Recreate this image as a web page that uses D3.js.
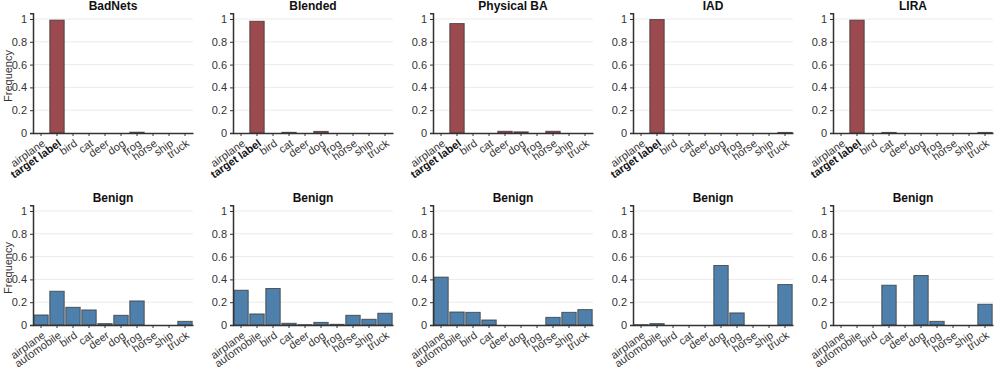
<!DOCTYPE html>
<meta charset="UTF-8">
<style>
body { margin: 0; background: #fff; }
text { font-family: "Liberation Sans", Arial, sans-serif; fill: #333; }
.title { font-weight: bold; font-size: 12px; fill: #111; }
.grid line { stroke: #ebebeb; stroke-width: 1px; }
.axis path, .axis line { stroke: #333; }
</style>
<body>
<script src="https://d3js.org/d3.v7.min.js"></script>
<script>

// class names
var attackClasses = ["airplane", "target label", "bird", "cat", "deer", "dog", "frog", "horse", "ship", "truck"];
var benignClasses = ["airplane", "automobile", "bird", "cat", "deer", "dog", "frog", "horse", "ship", "truck"];

var attackNames = ["BadNets", "Blended", "Physical BA", "IAD", "LIRA"];

// prediction frequencies of poisoned samples
var badnetsAttack  = [0, 0.99, 0, 0, 0, 0, 0.007, 0, 0, 0];
var blendedAttack  = [0, 0.98, 0, 0.006, 0, 0.014, 0, 0, 0, 0];
var physicalAttack = [0, 0.96, 0, 0, 0.015, 0.01, 0, 0.015, 0, 0];
var iadAttack      = [0, 0.995, 0, 0, 0, 0, 0, 0, 0, 0.005];
var liraAttack     = [0, 0.99, 0, 0.005, 0, 0, 0, 0, 0, 0.005];

// prediction frequencies of benign models
var badnetsBenign  = [0.088, 0.296, 0.155, 0.132, 0.012, 0.085, 0.211, 0, 0, 0.032];
var blendedBenign  = [0.305, 0.097, 0.32, 0.015, 0.003, 0.023, 0.006, 0.085, 0.05, 0.103];
var physicalBenign = [0.42, 0.114, 0.111, 0.044, 0, 0, 0, 0.067, 0.111, 0.135];
var iadBenign      = [0.003, 0.012, 0, 0, 0, 0.522, 0.106, 0, 0, 0.355];
var liraBenign     = [0, 0, 0, 0.349, 0, 0.434, 0.032, 0, 0, 0.182];

var yTicks = [0, 0.2, 0.4, 0.6, 0.8, 1];

var attackValues = [badnetsAttack, blendedAttack, physicalAttack, iadAttack, liraAttack];
var benignValues = [badnetsBenign, blendedBenign, physicalBenign, iadBenign, liraBenign];

var width = 996, height = 371;
var plotW = 160, plotH = 114;
var panelStep = 200, left0 = 33;

var svg = d3.select("body").append("svg")
    .attr("width", width)
    .attr("height", height);

function drawPanel(col, row, title, classes, values, color, boldIndex) {
  var x0 = left0 + col * panelStep;
  var y0 = row === 0 ? 19 : 211;

  var g = svg.append("g").attr("transform", "translate(" + x0 + "," + y0 + ")");

  var x = d3.scaleBand().domain(classes).range([0, plotW]).paddingInner(0.1).paddingOuter(0.05);
  var y = d3.scaleLinear().domain([0, 1.05]).range([plotH, plotH - 1.05 * plotH]);

  // grid
  g.append("g").attr("class", "grid")
    .selectAll("line").data(yTicks.filter(function(d) { return d > 0; })).enter()
    .append("line")
      .attr("x1", 0).attr("x2", plotW)
      .attr("y1", function(d) { return y(d); })
      .attr("y2", function(d) { return y(d); });

  // bars
  g.selectAll("rect.bar").data(values).enter()
    .append("rect")
      .attr("class", "bar")
      .attr("x", function(d, i) { return x(classes[i]); })
      .attr("width", x.bandwidth())
      .attr("y", function(d) { return y(d); })
      .attr("height", function(d) { return plotH - y(d); })
      .attr("fill", color)
      .attr("stroke", "#333")
      .attr("stroke-opacity", 0.75)
      .attr("stroke-width", 1);

  // y axis
  var yAxis = g.append("g").attr("class", "axis")
    .call(d3.axisLeft(y).tickValues(yTicks).tickSize(3).tickFormat(d3.format("~g")));
  yAxis.select(".domain").attr("stroke-width", 1.5);
  yAxis.selectAll("text").style("font-size", "11px").attr("x", -6);

  // x axis
  var xAxis = g.append("g").attr("class", "axis")
    .attr("transform", "translate(0," + plotH + ")")
    .call(d3.axisBottom(x).tickSize(3).tickSizeOuter(0));
  xAxis.select(".domain").attr("stroke-width", 1.5);
  xAxis.selectAll("text")
    .style("font-size", "11px")
    .style("font-weight", function(d, i) { return i === boldIndex ? "bold" : "normal"; })
    .style("fill", function(d, i) { return i === boldIndex ? "#111" : "#333"; })
    .attr("text-anchor", "end")
    .attr("dy", 0)
    .attr("y", 0)
    .attr("transform", "translate(5,12) rotate(-35)");

  // title
  g.append("text").attr("class", "title")
    .attr("x", plotW / 2).attr("y", -9)
    .attr("text-anchor", "middle")
    .text(title);

  if (col === 0) {
    g.append("text")
      .attr("transform", "translate(" + (-21) + "," + (plotH / 2) + ") rotate(-90)")
      .attr("text-anchor", "middle")
      .style("font-size", "11px")
      .text("Frequency");
  }
}

attackNames.forEach(function(name, i) {
  drawPanel(i, 0, name, attackClasses, attackValues[i], "#9b4a4f", 1);
  drawPanel(i, 1, "Benign", benignClasses, benignValues[i], "#4e80ab", -1);
});

</script>
</body>
